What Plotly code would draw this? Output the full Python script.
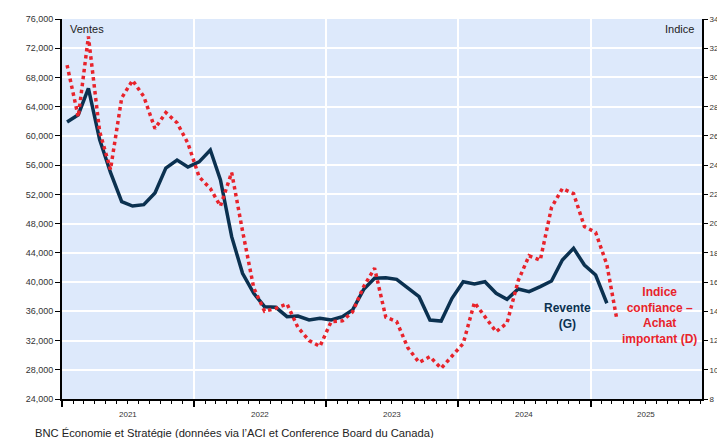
import plotly.graph_objects as go
import pandas as pd

# Monthly data, Jan 2021 onward
revente = [61900, 62900, 66500, 59500, 55000, 51000, 50400, 50600, 52200, 55600, 56700, 55750,
           56450, 58070, 53970, 46210, 41200, 38460, 36630, 36550, 35270, 35360, 34810, 35040,
           34810, 35270, 36180, 39000, 40520, 40600, 40380, 39150, 38000, 34810, 34670, 37780,
           40050, 39740, 40050, 38460, 37640, 39050, 38680, 39370, 40150, 43020, 44620, 42340,
           40970, 37100]
months_rev = pd.date_range("2021-01-01", periods=len(revente), freq="MS") + pd.Timedelta(days=14)

indice = [30.85, 27.3, 32.8, 26.3, 23.7, 28.6, 29.8, 28.7, 26.5, 27.6, 26.9, 25.5,
          23.2, 22.4, 21.2, 23.5, 19.5, 15.6, 14.0, 14.2, 14.5, 12.9, 12.0, 11.6,
          13.3, 13.35, 13.95, 15.7, 16.95, 13.6, 13.3, 11.5, 10.5, 10.9, 10.1, 10.9,
          11.8, 14.6, 13.6, 12.6, 13.2, 16.1, 17.8, 17.5, 21.1, 22.4, 22.05, 19.8,
          19.4, 17.2, 13.4]
months_ind = pd.date_range("2021-01-01", periods=len(indice), freq="MS") + pd.Timedelta(days=14)

years = ["2021", "2022", "2023", "2024", "2025"]
left_ticks = list(range(24000, 76001, 4000))
right_ticks = list(range(8, 35, 2))

X_START, X_END = "2021-01-01", "2025-11-05"
NAVY = "#0b3150"
RED = "#e8232b"
FONT = "Liberation Sans, Arial, sans-serif"

# page body has an 8px margin; plot area wanted at x 62..702, y 19..399 on screen
OFF = 8
W, H = 725 - OFF, 438 - OFF
PL, PT, PR, PB = 62, 19, 702, 399
fig = go.Figure()
fig.add_trace(go.Scatter(x=months_rev, y=revente, mode="lines",
                         line=dict(color=NAVY, width=3.5), yaxis="y", showlegend=False))
fig.add_trace(go.Scatter(x=months_ind, y=indice, mode="lines",
                         line=dict(color=RED, width=3.5, dash="dot"), yaxis="y2", showlegend=False))

fig.update_layout(
    width=W, height=H,
    margin=dict(l=PL - OFF, r=W - (PR - OFF), t=PT - OFF, b=H - (PB - OFF), autoexpand=False),
    paper_bgcolor="white", plot_bgcolor="#dde9fb",
    font=dict(family=FONT, color="#333"),
    xaxis=dict(type="date", range=[X_START, X_END], showgrid=True, gridcolor="white", gridwidth=2,
               tick0="2021-01-01", dtick="M12", ticks="outside", ticklen=6, tickwidth=1.5,
               tickcolor="black", showticklabels=False, showline=True, linecolor="black", linewidth=2,
               minor=dict(dtick="M1", ticks="outside", ticklen=3, tickcolor="black", tickwidth=1,
                          showgrid=False),
               zeroline=False, automargin=False),
    yaxis=dict(range=[24000, 76000], tickvals=left_ticks, tickformat=",", showgrid=True,
               gridcolor="white", gridwidth=2, ticks="outside", ticklen=5, tickcolor="black",
               showline=True, linecolor="black", linewidth=2, zeroline=False, automargin=False,
               tickfont=dict(size=9, color="#333")),
    yaxis2=dict(range=[8, 34], tickvals=right_ticks, overlaying="y", side="right", showgrid=False,
                ticks="outside", ticklen=4, tickcolor="black", showline=True, linecolor="black",
                linewidth=2, zeroline=False, automargin=False, tickfont=dict(size=8, color="#333")),
)

pw, ph = PR - PL, PB - PT

def px(xs):
    return (xs - PL) / pw

def py(ys):
    return (PB - ys) / ph

# year labels centered in each (visible) year
end_ts = pd.Timestamp(X_END)
for y in years:
    a = pd.Timestamp(f"{y}-01-01")
    b = min(pd.Timestamp(f"{int(y)+1}-01-01"), end_ts)
    mid = a + (b - a) / 2
    fig.add_annotation(x=mid, y=py(415), xref="x", yref="paper", text=y, showarrow=False,
                       font=dict(size=8, color="#333"), xanchor="center", yanchor="middle")

fig.add_annotation(x=px(68), y=py(29), xref="paper", yref="paper", text="Ventes",
                   showarrow=False, xanchor="left", yanchor="middle", font=dict(size=11, color="#222"))
fig.add_annotation(x=px(696), y=py(29), xref="paper", yref="paper", text="Indice",
                   showarrow=False, xanchor="right", yanchor="middle", font=dict(size=11, color="#222"))
fig.add_annotation(x=px(567.7), y=py(315.5), xref="paper", yref="paper",
                   text="<b>Revente<br>(G)</b>", showarrow=False, align="center",
                   xanchor="center", yanchor="middle", font=dict(size=12, color=NAVY))
fig.add_annotation(x=px(659), y=py(315), xref="paper", yref="paper",
                   text="<b>Indice<br>confiance –<br>Achat<br>important (D)</b>", showarrow=False,
                   align="center", xanchor="center", yanchor="middle", font=dict(size=12, color=RED))
fig.add_annotation(x=px(33), y=py(433), xref="paper", yref="paper",
                   text="BNC Économie et Stratégie (données via l’ACI et Conference Board du Canada)",
                   showarrow=False, xanchor="left", yanchor="middle", font=dict(size=11.2, color="#222"))

fig.write_html("out.html")
